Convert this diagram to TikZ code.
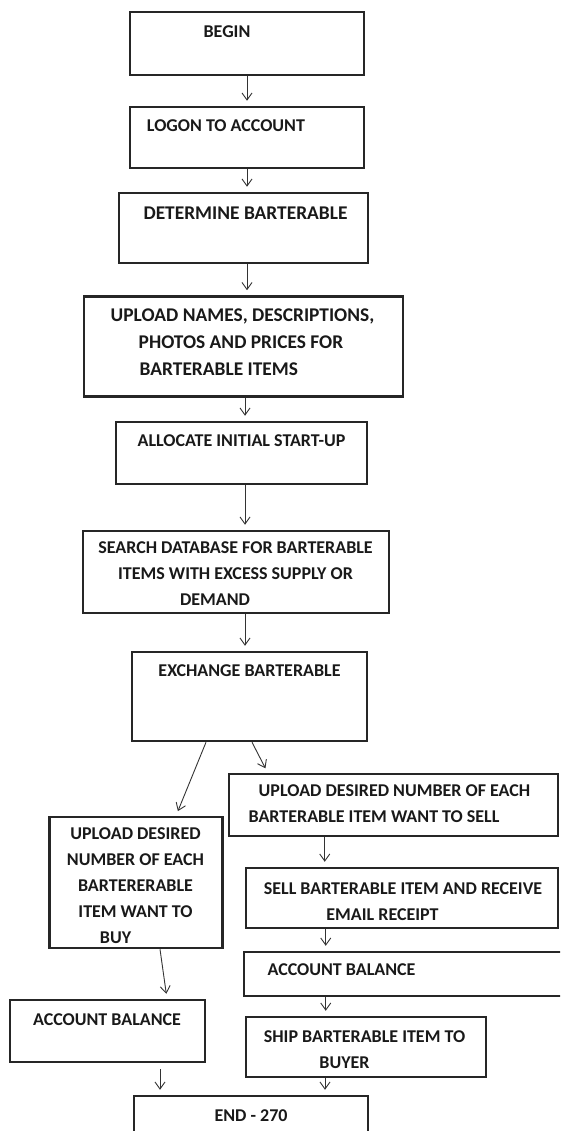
\documentclass[tikz,border=0pt]{standalone}
\usepackage{fontspec}
\setmainfont{Carlito}
\usetikzlibrary{arrows.meta}

\begin{document}
\begin{tikzpicture}[x=1pt,y=-1pt,>={Straight Barb[length=7pt,width=10pt]}]
            \clip (0,0) rectangle (560,1131);
            \tikzset{mybox/.style={draw=black!85,line width=2.5pt,inner sep=0pt}}
            \tikzset{mytext/.style={font=\bfseries\fontsize{18}{26}\selectfont,text=black!90,inner sep=0pt,align=center}}
            \tikzset{bigtext/.style={mytext,font=\bfseries\fontsize{19.4}{27}\selectfont}}
            \tikzset{myarrow/.style={->,line width=0.9pt,draw=black!80,shorten >=5pt}}
            % boxes
            \node[mybox,minimum width=234pt,minimum height=63pt]  (begin)    at (247,43.5)  {};
            \node[mybox,minimum width=234pt,minimum height=61pt]  (logon)    at (247,137.5) {};
            \node[mybox,minimum width=249pt,minimum height=70pt]  (determine) at (243.5,228) {};
            \node[mybox,minimum width=319pt,minimum height=100pt] (upload)   at (243.5,346.5) {};
            \node[mybox,minimum width=251pt,minimum height=62pt]  (allocate) at (241.5,453)  {};
            \node[mybox,minimum width=306pt,minimum height=82pt]  (search)   at (236,572)    {};
            \node[mybox,minimum width=235pt,minimum height=89pt]  (exchange) at (249.5,696.5) {};
            \node[mybox,minimum width=329pt,minimum height=62pt]  (sellup)   at (393.5,805)  {};
            \node[mybox,minimum width=173pt,minimum height=131pt] (buyup)    at (136,882.5)  {};
            \node[mybox,minimum width=312pt,minimum height=60pt]  (sell)     at (402,898)    {};
            \node[mybox,minimum width=322pt,minimum height=44pt]  (balR)     at (405,974)    {};
            \node[mybox,minimum width=195pt,minimum height=62pt]  (balL)     at (107.5,1031) {};
            \node[mybox,minimum width=240pt,minimum height=60pt]  (ship)     at (366,1047)   {};
            \node[mybox,minimum width=234pt,minimum height=60pt]  (end)      at (251,1126)   {};
            % texts
            \node[mytext] (beginT)    at (227,32)     {BEGIN};
            \node[mytext] (logonT)    at (226,126)    {LOGON TO ACCOUNT};
            \node[bigtext] (determineT) at (245.5,213) {DETERMINE BARTERABLE};
            \node[bigtext,align=left] (uploadT) at (242.5,342)
                {UPLOAD NAMES, DESCRIPTIONS,\\\hspace*{28pt}PHOTOS AND PRICES FOR\\\hspace*{29pt}BARTERABLE ITEMS};
            \node[mytext] (allocateT) at (241.5,441)  {ALLOCATE INITIAL START-UP};
            \node[mytext] (searchT)   at (235.5,574)
                {SEARCH DATABASE FOR BARTERABLE\\ITEMS WITH EXCESS SUPPLY OR\\\mbox{DEMAND\hspace{41pt}}};
            \node[mytext] (exchangeT) at (249.5,671)  {EXCHANGE BARTERABLE};
            \node[mytext] (sellupT)   at (394.5,803.5)
                {UPLOAD DESIRED NUMBER OF EACH\\\mbox{BARTERABLE ITEM WANT TO SELL\hspace{41pt}}};
            \node[mytext] (buyupT)    at (135.5,886)
                {UPLOAD DESIRED\\NUMBER OF EACH\\BARTERERABLE\\ITEM WANT TO\\\mbox{BUY\hspace{40pt}}};
            \node[mytext] (sellT)     at (403,901.5)
                {SELL BARTERABLE ITEM AND RECEIVE\\\mbox{EMAIL RECEIPT\hspace{41pt}}};
            \node[mytext] (balRT)     at (341.5,970)  {ACCOUNT BALANCE};
            \node[mytext] (balLT)     at (107,1020)   {ACCOUNT BALANCE};
            \node[mytext] (shipT)     at (364.5,1049.5)
                {SHIP BARTERABLE ITEM TO\\\mbox{BUYER\hspace{40pt}}};
            \node[mytext] (endT)      at (251,1116)   {END - 270};
            % arrows
            \draw[myarrow] (begin.south) -- (logon.north);
            \draw[myarrow] (logon.south) -- (determine.north -| logon.south);
            \draw[myarrow] (determine.south -| logon.south) -- (upload.north -| logon.south);
            \draw[myarrow] ([xshift=1.5pt]upload.south) -- ([xshift=3.5pt]allocate.north);
            \draw[myarrow] ([xshift=3.5pt]allocate.south) -- ([xshift=9pt]search.north);
            \draw[myarrow] ([xshift=9pt]search.south) -- ([xshift=-4.5pt]exchange.north);
            \draw[myarrow] ([xshift=-43.5pt]exchange.south) -- ([xshift=40pt]buyup.north);
            \draw[myarrow] ([xshift=2.5pt]exchange.south) -- ([xshift=40pt]sellup.north west);
            \draw[myarrow] ([xshift=97pt]sellup.south west) -- ([xshift=80pt]sell.north west);
            \draw[myarrow] ([xshift=81pt]sell.south west) -- ([xshift=83pt]balR.north west);
            \draw[myarrow] ([xshift=83pt]balR.south west) -- ([xshift=81pt]ship.north west);
            \draw[myarrow] ([xshift=24pt]buyup.south) -- ([xshift=59.5pt]balL.north);
            \draw[myarrow] ([xshift=52.5pt,yshift=-6pt]balL.south) -- ([xshift=-91pt]end.north);
            \draw[myarrow] ([xshift=-41pt]ship.south) -- ([xshift=74pt]end.north);
        \end{tikzpicture}
\end{document}
